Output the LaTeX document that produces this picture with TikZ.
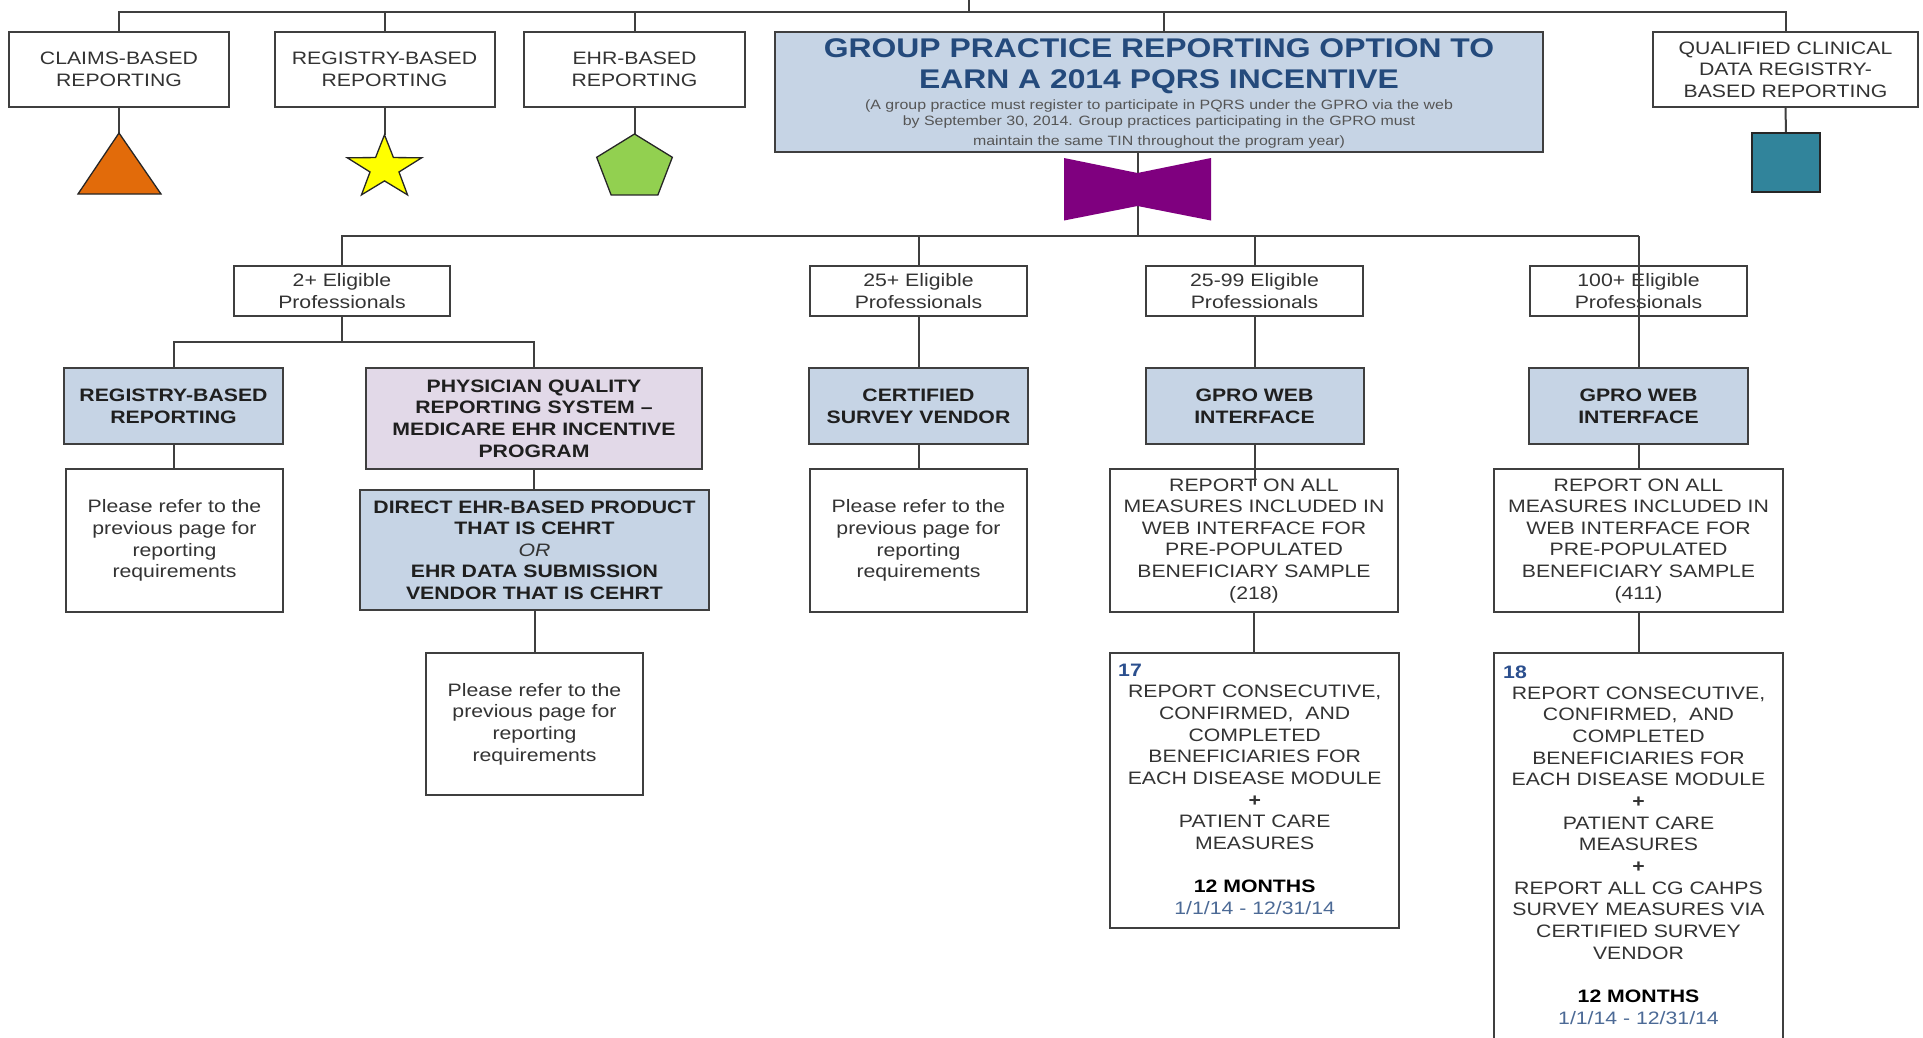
\documentclass[tikz,border=0pt]{standalone}
\usepackage{fontspec}
\setmainfont{Liberation Sans}[FakeStretch=1.18]
\definecolor{linec}{HTML}{3F3F3F}
\definecolor{boxblue}{HTML}{C6D4E5}
\definecolor{boxpurple}{HTML}{E2D9E8}
\definecolor{txtgray}{HTML}{333333}
\definecolor{titleblue}{HTML}{244A7C}
\definecolor{subgray}{HTML}{555555}
\definecolor{numblue}{HTML}{2B4F8E}
\definecolor{dateblue}{HTML}{4C6A96}
\definecolor{orangeF}{HTML}{E26B0A}
\definecolor{starY}{HTML}{FFFF00}
\definecolor{pentG}{HTML}{92D050}
\definecolor{tealF}{HTML}{31849B}
\definecolor{bowP}{HTML}{7F007F}
\tikzset{
  box/.style={draw=linec, line width=2pt, inner sep=0pt, align=center, text=txtgray, font=\fontsize{18}{21.6}\selectfont},
  wbox/.style={box, fill=white},
  bbox/.style={box, fill=boxblue, text=black!88, font=\fontsize{18}{21.6}\selectfont\bfseries},
  pbox/.style={bbox, fill=boxpurple},
  conn/.style={draw=linec, line width=2pt},
  shapeline/.style={draw=black!85, line width=1.3pt},
  sz/.style 2 args={minimum width=#1pt, minimum height=#2pt},
  bodytxt/.style={inner sep=0pt, align=center, text=txtgray, font=\fontsize{18}{21.65}\selectfont},
  numtxt/.style={inner sep=0pt, text=numblue, font=\fontsize{18}{21.6}\selectfont\bfseries},
}
\begin{document}
\begin{tikzpicture}[x=1pt, y=-1pt]
\useasboundingbox (0,0) rectangle (1923,1037);
\fill[white] (0,0) rectangle (1923,1037);

% ---------- top row ----------
\node[wbox, sz={220}{75}] (claims) at (119,69.5) {CLAIMS-BASED\\REPORTING};
\node[wbox, sz={220}{75}] (regtop) at (384.5,69.5) {REGISTRY-BASED\\REPORTING};
\node[wbox, sz={221}{75}] (ehrtop) at (634.5,69.5) {EHR-BASED\\REPORTING};
\node[box, fill=boxblue, sz={768}{120}] (gpro) at (1159,92) {};
\node[inner sep=0pt, align=center, text=titleblue, font=\fontsize{27}{31.5}\selectfont\bfseries] (gtitle) at (1159,66)
  {GROUP PRACTICE REPORTING OPTION TO\\EARN A 2014 PQRS INCENTIVE};
\node[inner sep=0pt, align=center, text=subgray, font=\fontsize{13.5}{15.5}\selectfont] (gsub) at (1159,124.5)
  {(A group practice must register to participate in PQRS under the GPRO via the web\\by September 30, 2014. Group practices participating in the GPRO must\\[5pt]maintain the same TIN throughout the program year)};
\node[wbox, sz={265}{75}] (qcdr) at (1785.5,69.5) {QUALIFIED CLINICAL\\DATA REGISTRY-\\BASED REPORTING};

% ---------- level 2 ----------
\node[wbox, sz={216}{50}] (e2) at (342,291) {2+ Eligible\\Professionals};
\node[wbox, sz={217}{50}] (e25) at (918.5,291) {25+ Eligible\\Professionals};
\node[wbox, sz={217}{50}] (e2599) at (1254.5,291) {25-99 Eligible\\Professionals};
\node[wbox, sz={217}{50}] (e100) at (1638.5,291) {100+ Eligible\\Professionals};

% ---------- level 3 ----------
\node[bbox, sz={219}{76}] (reg2) at (173.5,406) {REGISTRY-BASED\\REPORTING};
\node[pbox, sz={336}{101}] (pqrs) at (534,418.5) {PHYSICIAN QUALITY\\REPORTING SYSTEM –\\MEDICARE EHR INCENTIVE\\PROGRAM};
\node[bbox, sz={219}{76}] (csv) at (918.5,406) {CERTIFIED\\SURVEY VENDOR};
\node[bbox, sz={218}{76}] (web1) at (1254.5,406) {GPRO WEB\\INTERFACE};
\node[bbox, sz={219}{76}] (web2) at (1638.5,406) {GPRO WEB\\INTERFACE};

% ---------- level 4 ----------
\node[wbox, sz={217}{142.5}] (ref1) at (174.5,540.7) {Please refer to the\\previous page for\\reporting\\requirements};
\node[bbox, sz={349}{120}] (direct) at (534.5,550) {DIRECT EHR-BASED PRODUCT\\THAT IS CEHRT\\{\mdseries\itshape\color{txtgray}OR}\\EHR DATA SUBMISSION\\VENDOR THAT IS CEHRT};
\node[wbox, sz={217}{142.5}] (ref2) at (918.5,540.7) {Please refer to the\\previous page for\\reporting\\requirements};
\node[wbox, sz={288}{142.5}] (rep1) at (1254,540.7) {REPORT ON ALL\\MEASURES INCLUDED IN\\WEB INTERFACE FOR\\PRE-POPULATED\\BENEFICIARY SAMPLE\\(218)};
\node[wbox, sz={289}{142.5}] (rep2) at (1638.5,540.7) {REPORT ON ALL\\MEASURES INCLUDED IN\\WEB INTERFACE FOR\\PRE-POPULATED\\BENEFICIARY SAMPLE\\(411)};

% ---------- level 5 ----------
\node[wbox, sz={217}{142}] (ref3) at (534.5,724) {Please refer to the\\previous page for\\reporting\\requirements};
\node[wbox, sz={288.5}{275}] (m17) at (1254.7,790.5) {};
\node[wbox, sz={289}{400}] (m18) at (1638.5,853) {};
\node[numtxt, anchor=west] (n17) at (1118,670) {17};
\node[numtxt, anchor=west] (n18) at (1503,672) {18};
\node[bodytxt] (t17) at (1254.7,800) {REPORT CONSECUTIVE,\\CONFIRMED,\ \ AND\\COMPLETED\\BENEFICIARIES FOR\\EACH DISEASE MODULE\\\textbf{+}\\PATIENT CARE\\MEASURES\\[21.65pt]\textbf{\color{black}12 MONTHS}\\{\color{dateblue}1/1/14 - 12/31/14}};
\node[bodytxt] (t18) at (1638.5,855.5) {REPORT CONSECUTIVE,\\CONFIRMED,\ \ AND\\COMPLETED\\BENEFICIARIES FOR\\EACH DISEASE MODULE\\\textbf{+}\\PATIENT CARE\\MEASURES\\\textbf{+}\\REPORT ALL CG CAHPS\\SURVEY MEASURES VIA\\CERTIFIED SURVEY\\VENDOR\\[21.65pt]\textbf{\color{black}12 MONTHS}\\{\color{dateblue}1/1/14 - 12/31/14}};

% ---------- coordinates ----------
\coordinate (ttop) at (969,0);
\coordinate (tbar) at (969,12);
\coordinate (gproin) at (1164,32);
\coordinate (tri) at (119,133);
\coordinate (star) at (384.5,134.8);
\coordinate (pent) at (634.5,134);
\coordinate (sq) at (1786,133);
\coordinate (hub1) at (1137.5,235.5);
\coordinate (hub2) at (342,342.3);
\coordinate (rep1in) at (1255,486);

% ---------- connectors ----------
\draw[conn] (claims.north) -- (claims.north |- tbar) -- (qcdr.north |- tbar) -- (qcdr.north);
\draw[conn] (ttop) -- (tbar);
\draw[conn] (regtop.north) -- (regtop.north |- tbar);
\draw[conn] (ehrtop.north) -- (ehrtop.north |- tbar);
\draw[conn] (gproin) -- (gproin |- tbar);
\draw[conn] (claims.south) -- (tri);
\draw[conn] (regtop.south) -- (star);
\draw[conn] (ehrtop.south) -- (pent);
\draw[conn] (qcdr.south) -- (sq);
\draw[conn] (hub1 |- gpro.south) -- (hub1);

% ---------- shapes ----------
\filldraw[shapeline, fill=orangeF] (tri) -- (161,194) -- (78,194) -- cycle;
\begin{scope}[shift={(384.5,168)}, xscale=1.18]
\filldraw[shapeline, fill=starY] (-90:33.2) -- (-54:12.9) -- (-18:33.2) -- (18:12.9) -- (54:33.2) -- (90:12.9) -- (126:33.2) -- (162:12.9) -- (198:33.2) -- (234:12.9) -- cycle;
\end{scope}
\begin{scope}[shift={(634.5,167.7)}, xscale=1.18]
\filldraw[shapeline, fill=pentG] (-90:33.7) -- (-18:33.7) -- (54:33.7) -- (126:33.7) -- (198:33.7) -- cycle;
\end{scope}
\filldraw[shapeline, fill=tealF] (1752,133) rectangle (1820,192);
\fill[bowP] (1064,158) -- (1137.5,173) -- (1211,158) -- (1211,220.5) -- (1137.5,206) -- (1064,220.5) -- cycle;

\draw[conn] (e2.north) -- (e2.north |- hub1) -- (e100.north |- hub1);
\draw[conn] (e25.north) -- (e25.north |- hub1);
\draw[conn] (e2599.north) -- (e2599.north |- hub1);
\draw[conn] (web2.north) -- (web2.north |- hub1);

\draw[conn] (e2.south) -- (hub2);
\draw[conn] (reg2.north) -- (reg2.north |- hub2) -- (pqrs.north |- hub2) -- (pqrs.north);
\draw[conn] (reg2.south) -- (reg2.south |- ref1.north);
\draw[conn] (pqrs.south) -- (pqrs.south |- direct.north);
\draw[conn] (direct.south) -- (direct.south |- ref3.north);
\draw[conn] (e25.south) -- (e25.south |- csv.north);
\draw[conn] (csv.south) -- (csv.south |- ref2.north);
\draw[conn] (e2599.south) -- (e2599.south |- web1.north);
\draw[conn] (web1.south) -- (web1.south |- rep1in);
\draw[conn] (web2.south) -- (web2.south |- rep2.north);
\draw[conn] (rep1.south) -- (rep1.south |- m17.north);
\draw[conn] (rep2.south) -- (rep2.south |- m18.north);
\end{tikzpicture}
\end{document}
